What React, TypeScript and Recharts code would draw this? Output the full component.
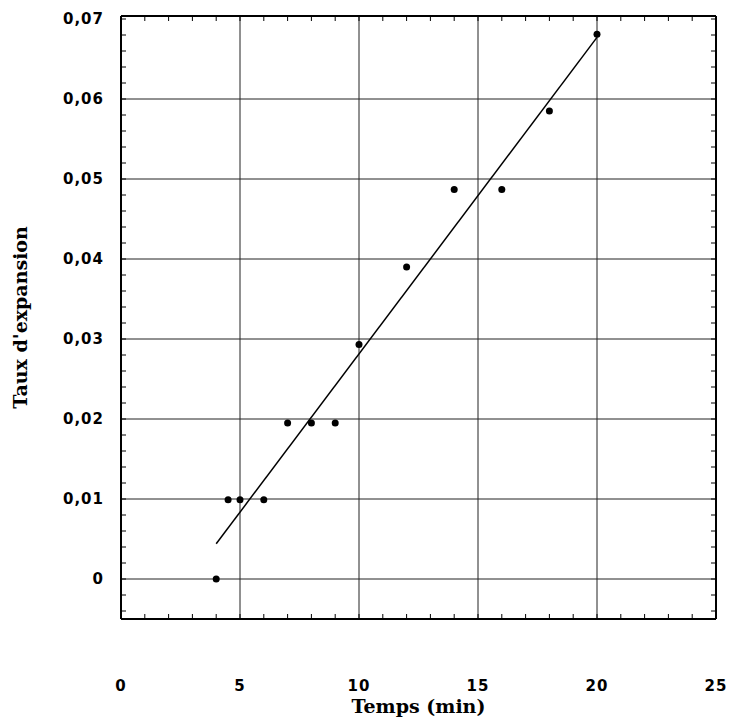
import React from 'react';
import { ComposedChart, Scatter, XAxis, YAxis, ReferenceLine } from 'recharts';

// mesures (temps en min, taux d'expansion)
const temps = [4, 4.5, 5, 6, 7, 8, 9, 10, 12, 14, 16, 18, 20];
const taux = [0, 0.0099, 0.0099, 0.0099, 0.0195, 0.0195, 0.0195, 0.0293, 0.039, 0.0487, 0.0487, 0.0585, 0.0681];

// droite de régression
const fitTemps = [4, 20];
const fitTaux = [0.0044, 0.0677];

const xTicks = [0, 1, 2, 3, 4, 5, 6, 7, 8, 9, 10, 11, 12, 13, 14, 15, 16, 17, 18, 19, 20, 21, 22, 23, 24, 25];
const xGrid = [5, 10, 15, 20];
const yTicks = [
  -0.004, -0.002, 0, 0.002, 0.004, 0.006, 0.008, 0.01, 0.012, 0.014, 0.016, 0.018, 0.02,
  0.022, 0.024, 0.026, 0.028, 0.03, 0.032, 0.034, 0.036, 0.038, 0.04, 0.042, 0.044, 0.046,
  0.048, 0.05, 0.052, 0.054, 0.056, 0.058, 0.06, 0.062, 0.064, 0.066, 0.068, 0.07,
];
const yGrid = [0, 0.01, 0.02, 0.03, 0.04, 0.05, 0.06];

const points = temps.map((t, i) => ({ x: t, y: taux[i] }));
const fit = fitTemps.map((t, i) => ({ x: t, y: fitTaux[i] }));

const tickFont = { fontFamily: 'DejaVu Sans', fontWeight: 'bold' as const, fontSize: 15, letterSpacing: 1 };
const titleFont = { fontFamily: 'DejaVu Serif', fontWeight: 'bold' as const, fontSize: 19 };

const isMajorY = (v: number) => v >= 0 && Math.abs(v * 100 - Math.round(v * 100)) < 1e-6;
const fmtY = (v: number) => (Math.abs(v) < 1e-9 ? '0' : v.toFixed(2).replace('.', ','));

const BottomTick = (props: any) => {
  const { x, y, payload } = props;
  const v = payload.value;
  return (
    <g>
      <line x1={x} y1={y} x2={x} y2={y - 5} stroke="#000" strokeWidth={1} />
      {v % 5 === 0 && (
        <text x={x} y={y + 72} textAnchor="middle" fill="#000" style={tickFont}>
          {v}
        </text>
      )}
    </g>
  );
};

const TopTick = (props: any) => {
  const { x, y } = props;
  return <line x1={x} y1={y} x2={x} y2={y + 5} stroke="#000" strokeWidth={1} />;
};

const LeftTick = (props: any) => {
  const { x, y, payload } = props;
  const v = payload.value;
  return (
    <g>
      <line x1={x} y1={y} x2={x + 5} y2={y} stroke="#000" strokeWidth={1} />
      {isMajorY(v) && (
        <text x={x - 17} y={y + 5} textAnchor="end" fill="#000" style={tickFont}>
          {fmtY(v)}
        </text>
      )}
    </g>
  );
};

const RightTick = (props: any) => {
  const { x, y } = props;
  return <line x1={x} y1={y} x2={x - 5} y2={y} stroke="#000" strokeWidth={1} />;
};

const Dot = (props: any) => <circle cx={props.cx} cy={props.cy} r={3.5} fill="#000" />;

export default function App() {
  return (
    <div style={{ position: 'absolute', left: 0, top: 0, width: 729, height: 725, background: '#fff' }}>
      <ComposedChart width={729} height={725} margin={{ top: 0, right: 0, bottom: 0, left: 0 }}>
        <XAxis
          xAxisId="b"
          type="number"
          dataKey="x"
          domain={[0, 25]}
          ticks={xTicks}
          interval={0}
          allowDataOverflow
          height={106}
          tickSize={0}
          tickMargin={0}
          tickLine={false}
          axisLine={{ stroke: '#000', strokeWidth: 2 }}
          tick={BottomTick}
          label={{ value: 'Temps (min)', position: 'insideBottom', offset: 12, fill: '#000', style: titleFont }}
        />
        <XAxis
          xAxisId="t"
          orientation="top"
          type="number"
          dataKey="x"
          domain={[0, 25]}
          ticks={xTicks}
          interval={0}
          allowDataOverflow
          height={16}
          tickSize={0}
          tickMargin={0}
          tickLine={false}
          axisLine={{ stroke: '#000', strokeWidth: 2 }}
          tick={TopTick}
        />
        <YAxis
          yAxisId="l"
          type="number"
          dataKey="y"
          domain={[-0.005, 0.070375]}
          ticks={yTicks}
          interval={0}
          allowDataOverflow
          width={121}
          tickSize={0}
          tickMargin={0}
          tickLine={false}
          axisLine={{ stroke: '#000', strokeWidth: 2 }}
          tick={LeftTick}
          label={{ value: "Taux d'expansion", angle: -90, position: 'insideLeft', offset: 20, fill: '#000', style: { ...titleFont, textAnchor: 'middle' } }}
        />
        <YAxis
          yAxisId="r"
          orientation="right"
          type="number"
          dataKey="y"
          domain={[-0.005, 0.070375]}
          ticks={yTicks}
          interval={0}
          allowDataOverflow
          width={13}
          tickSize={0}
          tickMargin={0}
          tickLine={false}
          axisLine={{ stroke: '#000', strokeWidth: 2 }}
          tick={RightTick}
        />
        {xGrid.map((v) => (
          <ReferenceLine key={'gx' + v} xAxisId="b" yAxisId="l" x={v} stroke="#222" strokeWidth={1} />
        ))}
        {yGrid.map((v) => (
          <ReferenceLine key={'gy' + v} xAxisId="b" yAxisId="l" y={v} stroke="#222" strokeWidth={1} />
        ))}
        <Scatter
          xAxisId="b"
          yAxisId="l"
          data={fit}
          line={{ stroke: '#000', strokeWidth: 1.5 }}
          shape={() => null}
          isAnimationActive={false}
        />
        <Scatter xAxisId="b" yAxisId="l" data={points} fill="#000" shape={Dot} isAnimationActive={false} />
      </ComposedChart>
    </div>
  );
}
